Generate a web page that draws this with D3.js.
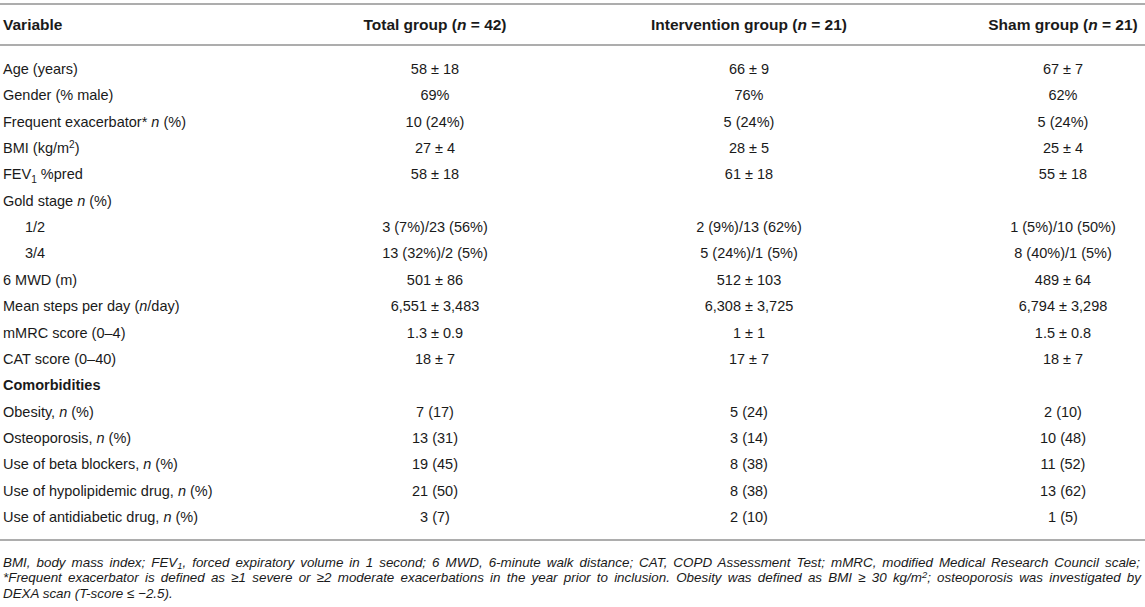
<!DOCTYPE html>
<html>
<head>
<meta charset="utf-8">
<script src="https://cdn.jsdelivr.net/npm/d3@7"></script>
<style>
    body { margin: 0; background: #fff; }
    svg { display: block; font-family: 'Liberation Sans', Arial, sans-serif; }
</style>
</head>
<body>
<div id="table_chart"></div>
<script>
// table contents, markup: <i>, <b>, <sub>, <sup>
var headers = ['Variable', 'Total group (<i>n</i> = 42)', 'Intervention group (<i>n</i> = 21)', 'Sham group (<i>n</i> = 21)'];

var variables = [
    'Age (years)',
    'Gender (% male)',
    'Frequent exacerbator* <i>n</i> (%)',
    'BMI (kg/m<sup>2</sup>)',
    'FEV<sub>1</sub> %pred',
    'Gold stage <i>n</i> (%)',
    '1/2',
    '3/4',
    '6 MWD (m)',
    'Mean steps per day (<i>n</i>/day)',
    'mMRC score (0–4)',
    'CAT score (0–40)',
    '<b>Comorbidities</b>',
    'Obesity, <i>n</i> (%)',
    'Osteoporosis, <i>n</i> (%)',
    'Use of beta blockers, <i>n</i> (%)',
    'Use of hypolipidemic drug, <i>n</i> (%)',
    'Use of antidiabetic drug, <i>n</i> (%)'
];

var indented = ['1/2', '3/4'];

var total_group = ['58 ± 18', '69%', '10 (24%)', '27 ± 4', '58 ± 18', '', '3 (7%)/23 (56%)', '13 (32%)/2 (5%)',
    '501 ± 86', '6,551 ± 3,483', '1.3 ± 0.9', '18 ± 7', '', '7 (17)', '13 (31)', '19 (45)', '21 (50)', '3 (7)'];

var intervention_group = ['66 ± 9', '76%', '5 (24%)', '28 ± 5', '61 ± 18', '', '2 (9%)/13 (62%)', '5 (24%)/1 (5%)',
    '512 ± 103', '6,308 ± 3,725', '1 ± 1', '17 ± 7', '', '5 (24)', '3 (14)', '8 (38)', '8 (38)', '2 (10)'];

var sham_group = ['67 ± 7', '62%', '5 (24%)', '25 ± 4', '55 ± 18', '', '1 (5%)/10 (50%)', '8 (40%)/1 (5%)',
    '489 ± 64', '6,794 ± 3,298', '1.5 ± 0.8', '18 ± 7', '', '2 (10)', '10 (48)', '11 (52)', '13 (62)', '1 (5)'];

var footnotes = [
    'BMI, body mass index; FEV<sub>1</sub>, forced expiratory volume in 1 second; 6 MWD, 6-minute walk distance; CAT, COPD Assessment Test; mMRC, modified Medical Research Council scale;',
    '*Frequent exacerbator is defined as ≥1 severe or ≥2 moderate exacerbations in the year prior to inclusion. Obesity was defined as BMI ≥ 30 kg/m<sup>2</sup>; osteoporosis was investigated by',
    'DEXA scan (T-score ≤ −2.5).'
];
// justified lines get a width, the last one runs natural
var footnote_widths = [1137, 1138, null];

var chart_width = 1145;
var chart_height = 607;
var text_color = '#1a1a1a';
var rule_color = '#adadad';

var svg = d3.select('#table_chart')
    .append('svg')
    .attr('width', chart_width)
    .attr('height', chart_height);

var columns = [total_group, intervention_group, sham_group];

var x_scale = d3.scalePoint()
    .domain([0, 1, 2])
    .range([435, 1063]);

var y_scale = d3.scalePoint()
    .domain(d3.range(variables.length))
    .range([69, 517]);

// write markup string into a text element as tspans
function rich(sel, str, sub, sup) {
    sub = sub || 4;
    sup = sup || -5;
    var parts = str.split(/(<\/?(?:i|b|sub|sup)>)/);
    var italic = false, bold = false, shift = 0, small = false, last = 0;
    parts.forEach(function (p) {
        if (p === '<i>') { italic = true; return; }
        if (p === '</i>') { italic = false; return; }
        if (p === '<b>') { bold = true; return; }
        if (p === '</b>') { bold = false; return; }
        if (p === '<sub>') { shift = sub; small = true; return; }
        if (p === '<sup>') { shift = sup; small = true; return; }
        if (p === '</sub>' || p === '</sup>') { shift = 0; small = false; return; }
        if (p === '') return;
        var t = sel.append('tspan').text(p);
        if (italic) t.style('font-style', 'italic');
        if (bold) t.style('font-weight', 'bold');
        if (small) t.style('font-size', '70%');
        if (shift !== last) t.attr('dy', shift - last);
        last = shift;
    });
}

// rules
svg.selectAll('line.rule')
    .data([4, 45, 540])
    .enter()
    .append('line')
    .attr('class', 'rule')
    .attr('x1', 0)
    .attr('x2', chart_width)
    .attr('y1', function (d) { return d; })
    .attr('y2', function (d) { return d; })
    .attr('stroke', rule_color)
    .attr('stroke-width', 2);

// header
svg.append('g')
    .attr('class', 'header')
    .selectAll('text')
    .data(headers)
    .enter()
    .append('text')
    .attr('x', function (d, i) { return i === 0 ? 3 : x_scale(i - 1); })
    .attr('y', 29.5)
    .attr('text-anchor', function (d, i) { return i === 0 ? 'start' : 'middle'; })
    .style('font-size', '15.5px')
    .style('font-weight', 'bold')
    .attr('fill', text_color)
    .each(function (d) { rich(d3.select(this), d); });

// variable labels
svg.append('g')
    .attr('class', 'labels')
    .selectAll('text')
    .data(variables)
    .enter()
    .append('text')
    .attr('x', function (d) { return indented.indexOf(d) >= 0 ? 25 : 3; })
    .attr('y', function (d, i) { return y_scale(i) + 5; })
    .style('font-size', '14.5px')
    .attr('fill', text_color)
    .each(function (d) { rich(d3.select(this), d); });

// value cells
columns.forEach(function (col, c) {
    svg.append('g')
        .attr('class', 'col-' + c)
        .selectAll('text')
        .data(col)
        .enter()
        .append('text')
        .attr('x', x_scale(c))
        .attr('y', function (d, i) { return y_scale(i) + 5; })
        .attr('text-anchor', 'middle')
        .style('font-size', '14.5px')
        .attr('fill', text_color)
        .text(function (d) { return d; });
});

// footnote, justified by adjusting the word gaps
svg.append('g')
    .attr('class', 'footnote')
    .selectAll('text')
    .data(footnotes)
    .enter()
    .append('text')
    .attr('x', 3)
    .attr('y', function (d, i) { return 566.5 + i * 15.8; })
    .style('font-size', '13.4px')
    .style('font-style', 'italic')
    .attr('fill', text_color)
    .each(function (d, i) {
        var el = d3.select(this);
        rich(el, d, 2.5, -4);
        if (!footnote_widths[i]) return;
        var natural = this.getComputedTextLength();
        var gaps = d.replace(/<[^>]+>/g, '').split(' ').length - 1;
        el.style('word-spacing', ((footnote_widths[i] - natural) / gaps) + 'px');
    });
</script>
</body>
</html>
